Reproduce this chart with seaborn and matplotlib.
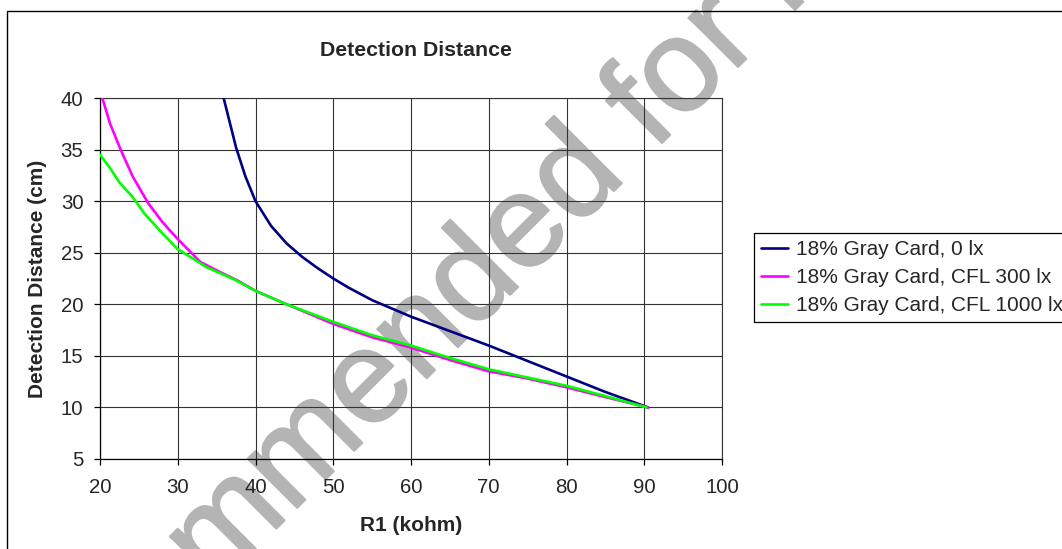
import matplotlib
matplotlib.use("Agg")
import matplotlib.pyplot as plt
import matplotlib.patheffects as pe
from matplotlib.patches import Rectangle
import seaborn as sns
import pandas as pd

# 18% Gray Card, 0 lx
r1_dark = [35.9, 37.5, 38.7, 40.0, 42.0, 44.0, 46.0, 48.0, 50.0, 52.0, 55.0,
           60.0, 65.0, 70.0, 75.0, 80.0, 85.0, 90.5]
dist_dark = [40.0, 35.2, 32.4, 30.0, 27.6, 25.9, 24.6, 23.5, 22.5, 21.6, 20.4,
             18.8, 17.4, 16.0, 14.5, 13.0, 11.5, 10.0]

# 18% Gray Card, CFL 300 lx
r1_300 = [20.3, 21.3, 22.65, 24.2, 26.2, 28.0, 29.9, 32.9, 35.5, 37.7, 40.0,
          44.0, 50.0, 55.0, 60.0, 65.0, 70.0, 75.0, 80.0, 85.0, 90.5]
dist_300 = [40.0, 37.5, 35.0, 32.4, 29.8, 28.0, 26.4, 24.1, 23.1, 22.3, 21.3,
            20.0, 18.1, 16.8, 15.8, 14.6, 13.5, 12.8, 11.95, 11.0, 10.0]

# 18% Gray Card, CFL 1000 lx
r1_1000 = [20.0, 21.3, 22.5, 24.2, 25.7, 28.0, 29.9, 33.7, 37.3, 40.0, 44.0,
           50.0, 55.0, 60.0, 65.0, 70.0, 75.0, 80.0, 85.0, 90.3]
dist_1000 = [34.5, 33.2, 31.8, 30.4, 28.8, 26.9, 25.4, 23.6, 22.4, 21.3, 20.0,
             18.3, 17.0, 16.0, 14.8, 13.7, 12.9, 12.1, 11.1, 10.0]

series_names = ["18% Gray Card, 0 lx", "18% Gray Card, CFL 300 lx",
                "18% Gray Card, CFL 1000 lx"]
series_colors = ["#000080", "#FF00FF", "#00FF00"]

x_ticks = [20, 30, 40, 50, 60, 70, 80, 90, 100]
y_ticks = [5, 10, 15, 20, 25, 30, 35, 40]

frames = []
for name, xs, ys in zip(series_names, [r1_dark, r1_300, r1_1000],
                        [dist_dark, dist_300, dist_1000]):
    frames.append(pd.DataFrame({"R1": xs, "dist": ys, "series": name}))
df = pd.concat(frames, ignore_index=True)

sns.set_style("white")
plt.rcParams['font.family'] = ['Liberation Sans', 'DejaVu Sans']

W, H = 1062, 549
fig = plt.figure(figsize=(W / 100, H / 100), dpi=100)
fig.patch.set_facecolor("white")

# plot area in pixels: x 100..722, y 98..459
ax = fig.add_axes([100 / W, 1 - 459 / H, 622 / W, 361 / H])
ax.set_facecolor("none")
ax.set_zorder(2)

# watermark behind the chart
fig.text(584 / W, 328 / H, "Not recommended for new designs", rotation=45,
         rotation_mode="anchor", ha="center", va="baseline", fontsize=95,
         color="#b4b4b4", zorder=1,
         path_effects=[pe.withStroke(linewidth=1.5, foreground="#b4b4b4")])

# outer chart frame (cut off at right and bottom)
fig.add_artist(Rectangle((7 / W, -0.1), 1.2, 1.1 - 11 / H, transform=fig.transFigure,
                         fill=False, edgecolor="black", linewidth=1.0, zorder=3))

sns.lineplot(data=df, x="R1", y="dist", hue="series", hue_order=series_names,
             palette=dict(zip(series_names, series_colors)), estimator=None,
             sort=False, linewidth=1.9, ax=ax, zorder=3)

ax.set_xlim(20, 100)
ax.set_ylim(5, 40)
ax.set_xticks(x_ticks)
ax.set_yticks(y_ticks)
ax.grid(True, color="#333333", linewidth=0.8)
ax.set_axisbelow(True)
for side in ["top", "right"]:
    ax.spines[side].set_color("#333333")
    ax.spines[side].set_linewidth(0.8)
for side in ["left", "bottom"]:
    ax.spines[side].set_color("black")
    ax.spines[side].set_linewidth(0.9)
ax.tick_params(direction="out", length=4, width=0.9, color="black",
               labelsize=14.7, left=True, bottom=True)
ax.tick_params(axis="x", pad=10)
ax.tick_params(axis="y", pad=8)

ax.set_title("Detection Distance", fontsize=15.3, fontweight="bold",
             x=(416 - 100) / 622, pad=30)
ax.set_xlabel("R1 (kohm)", fontsize=15, fontweight="bold")
ax.set_ylabel("Detection Distance (cm)", fontsize=15, fontweight="bold")
ax.xaxis.set_label_coords(0.5, -57 / 361)
ax.yaxis.set_label_coords((47 - 100) / 622, 0.5)

leg = ax.legend(loc="upper left", bbox_to_anchor=(754 / W, 1 - 233 / H),
                bbox_transform=fig.transFigure, borderaxespad=0, fontsize=15,
                frameon=True, fancybox=False, edgecolor="black", framealpha=1,
                handlelength=1.3, handletextpad=0.35, labelspacing=0.42,
                borderpad=0.35, title=None)
leg.get_frame().set_linewidth(0.9)
for line in leg.get_lines():
    line.set_linewidth(1.9)

fig.savefig("out.png", dpi=100)
